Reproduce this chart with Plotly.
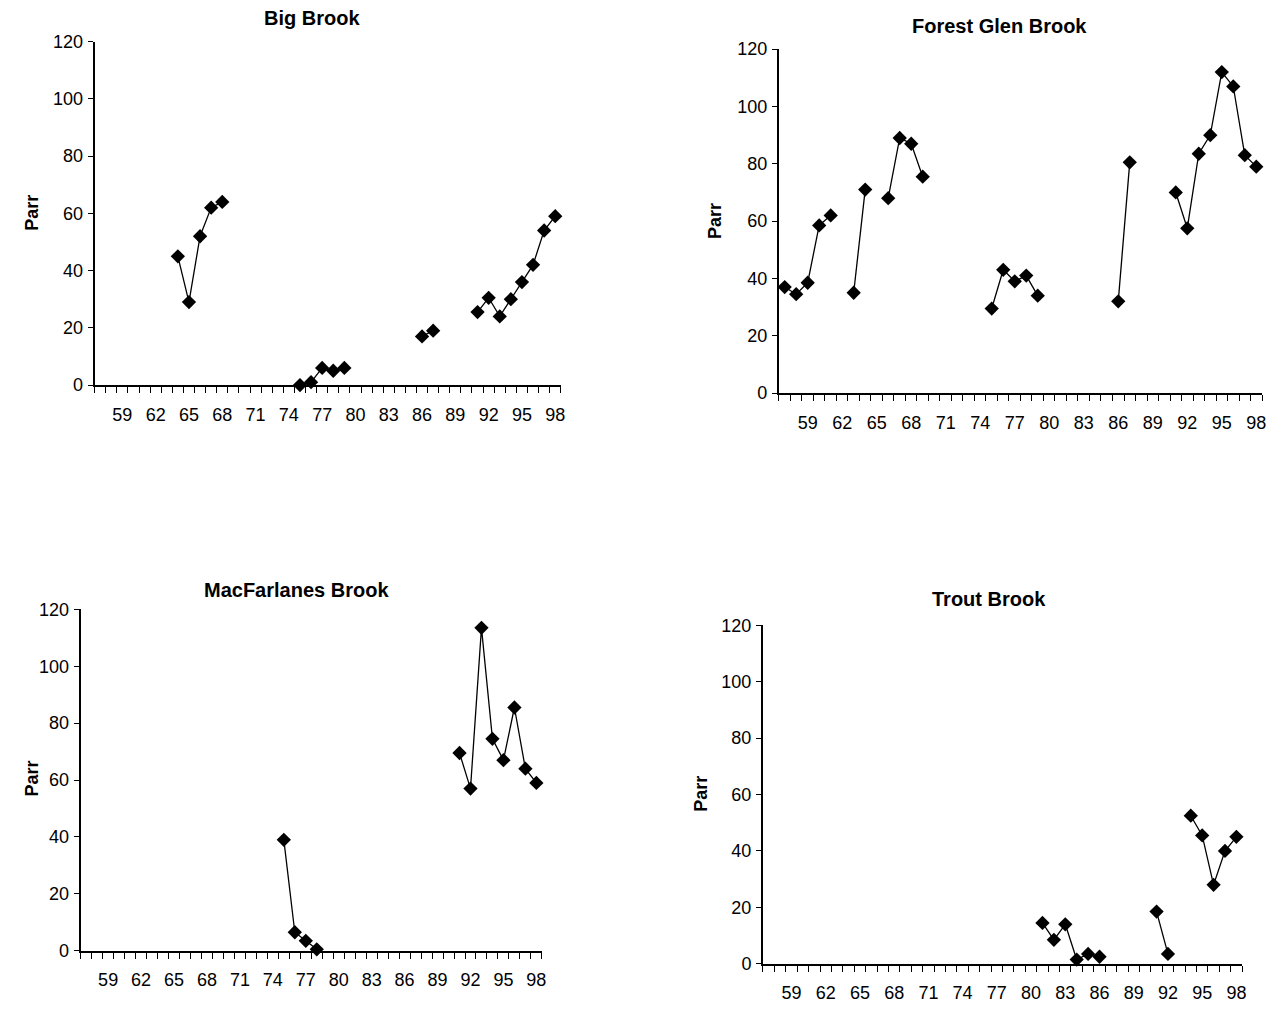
import plotly.graph_objects as go

W, H = 1274, 1011

# ---------------- data ----------------
tick_years = [59, 62, 65, 68, 71, 74, 77, 80, 83, 86, 89, 92, 95, 98]
tick_text = [str(t) for t in tick_years]
parr_ticks = [0, 20, 40, 60, 80, 100, 120]

big_years = [64, 65, 66, 67, 68, 75, 76, 77, 78, 79, 86, 87, 91, 92, 93, 94, 95, 96, 97, 98]
big_parr = [45, 29, 52, 62, 64, 0, 1, 6, 5, 6, 17, 19, 25.5, 30.5, 24, 30, 36, 42, 54, 59]

fg_years = [57, 58, 59, 60, 61, 63, 64, 66, 67, 68, 69, 75, 76, 77, 78, 79, 86, 87,
            91, 92, 93, 94, 95, 96, 97, 98]
fg_parr = [37, 34.5, 38.5, 58.5, 62, 35, 71, 68, 89, 87, 75.5, 29.5, 43, 39, 41, 34, 32, 80.5,
           70, 57.5, 83.5, 90, 112, 107, 83, 79]

mac_years = [75, 76, 77, 78, 91, 92, 93, 94, 95, 96, 97, 98]
mac_parr = [39, 6.5, 3.5, 0.5, 69.5, 57, 113.5, 74.5, 67, 85.5, 64, 59]

trout_years = [81, 82, 83, 84, 85, 86, 91, 92, 94, 95, 96, 97, 98]
trout_parr = [14.5, 8.5, 14, 1.5, 3.5, 2.5, 18.5, 3.5, 52.5, 45.5, 28, 40, 45]

titles = ["Big Brook", "Forest Glen Brook", "MacFarlanes Brook", "Trout Brook"]
y_title = "Parr"

# ---------------- layout geometry (target pixels) ----------------
# (x_left, x_right, y_bottom(0), y_top(120)), title centre, y-title centre
geom = [
    ((95, 563, 385, 42), (313, 18), (32, 213)),
    ((782, 1267, 393, 49.5), (1003, 26), (718, 221)),
    ((81, 544, 950, 609), (298, 590), (32, 778)),
    ((766, 1247, 963, 625), (993, 599), (703, 793)),
]
series = [(big_years, big_parr), (fg_years, fg_parr), (mac_years, mac_parr), (trout_years, trout_parr)]

FONT = "Liberation Sans, Arial, sans-serif"

# empirical vertical correction of the rendered page
Y_OFF, Y_SCALE = 10.4, 0.979


def py(v):
    """target pixel row -> paper fraction"""
    return 1 - ((v - Y_OFF) / Y_SCALE) / H


def px(v):
    return v / W


def with_gaps(xs, ys):
    gx, gy = [], []
    for i, (x, y) in enumerate(zip(xs, ys)):
        if i > 0 and x - xs[i - 1] > 1:
            gx.append(None)
            gy.append(None)
        gx.append(x)
        gy.append(y)
    return gx, gy


fig = go.Figure()
annotations = []
layout = {}

for i, ((xs, ys), (box, tpos, ypos), title) in enumerate(zip(series, geom, titles)):
    n = "" if i == 0 else str(i + 1)
    xl, xr, yb, yt = box
    gx, gy = with_gaps(xs, ys)
    fig.add_trace(go.Scatter(
        x=gx, y=gy, mode="lines+markers",
        xaxis="x" + n, yaxis="y" + n,
        line=dict(color="black", width=1.3),
        marker=dict(symbol="diamond", size=11, color="black"),
        cliponaxis=False, showlegend=False, connectgaps=False,
    ))
    layout["xaxis" + n] = dict(
        domain=[px(xl), px(xr)], range=[56.5, 98.5], anchor="y" + n,
        tickmode="array", tickvals=tick_years, ticktext=tick_text,
        ticks="", showline=True, linecolor="black", linewidth=2,
        showgrid=False, zeroline=False,
        tickfont=dict(family=FONT, size=18, color="black"),
        ticklabelstandoff=12,
        minor=dict(tick0=56.5, dtick=1, ticks="outside", ticklen=6,
                   tickcolor="black", tickwidth=1.3, showgrid=False),
    )
    layout["yaxis" + n] = dict(
        domain=[py(yb), py(yt)], range=[0, 120], anchor="x" + n,
        tickmode="array", tickvals=parr_ticks,
        ticks="outside", ticklen=5, tickwidth=1.3, tickcolor="black",
        showline=True, linecolor="black", linewidth=2,
        showgrid=False, zeroline=False,
        tickfont=dict(family=FONT, size=18, color="black"),
        ticklabelstandoff=1,
    )
    annotations.append(dict(
        text="<b>%s</b>" % title, x=px(tpos[0]), y=py(tpos[1]),
        xref="paper", yref="paper", xanchor="center", yanchor="middle",
        showarrow=False, font=dict(family=FONT, size=20, color="black"),
    ))
    annotations.append(dict(
        text="<b>%s</b>" % y_title, x=px(ypos[0]), y=py(ypos[1]),
        xref="paper", yref="paper", xanchor="center", yanchor="middle",
        textangle=-90, showarrow=False,
        font=dict(family=FONT, size=18, color="black"),
    ))

fig.update_layout(
    width=W, height=H, margin=dict(l=0, r=0, t=0, b=0),
    paper_bgcolor="white", plot_bgcolor="white",
    annotations=annotations, **layout,
)

fig.write_html("out.html")
